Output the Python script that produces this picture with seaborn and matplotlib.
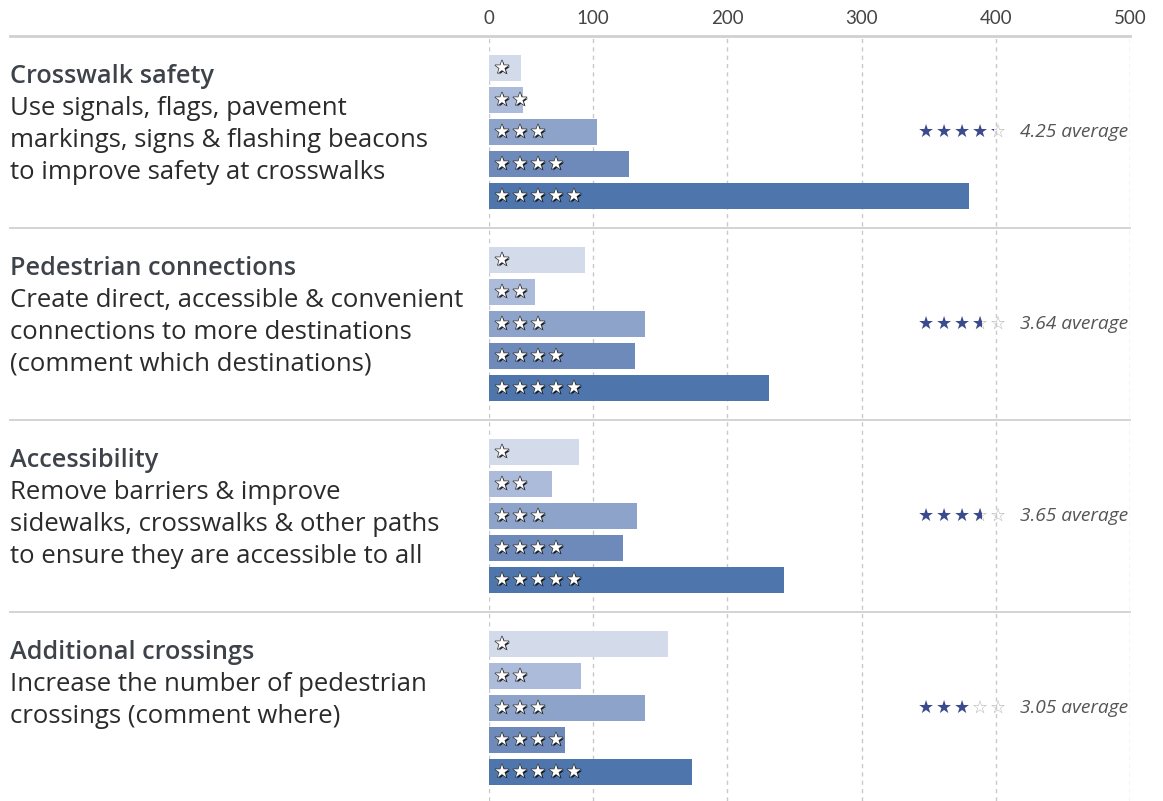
import numpy as np
import pandas as pd
import matplotlib
matplotlib.use('Agg')
import matplotlib.pyplot as plt
import matplotlib.patheffects as pe
from matplotlib.transforms import Bbox
import seaborn as sns

# dados
titles = ['Crosswalk safety', 'Pedestrian connections', 'Accessibility', 'Additional crossings']
descriptions = [
    ['Use signals, flags, pavement', 'markings, signs & flashing beacons', 'to improve safety at crosswalks'],
    ['Create direct, accessible & convenient', 'connections to more destinations', '(comment which destinations)'],
    ['Remove barriers & improve', 'sidewalks, crosswalks & other paths', 'to ensure they are accessible to all'],
    ['Increase the number of pedestrian', 'crossings (comment where)'],
]
stars = [1, 2, 3, 4, 5]
counts_crosswalk = [31, 33, 103, 127, 380]
counts_connections = [92, 44, 139, 131, 231]
counts_accessibility = [87, 61, 133, 122, 242]
counts_crossings = [156, 88, 139, 73, 174]
averages = [4.25, 3.64, 3.65, 3.05]
x_ticks = [0, 100, 200, 300, 400, 500]

all_counts = [counts_crosswalk, counts_connections, counts_accessibility, counts_crossings]
star_colors = ['#d3dbea', '#adbbda', '#8ea3c9', '#6e8aba', '#4e76ad']

rows = []
for g, counts in enumerate(all_counts):
    for s, c in zip(stars, counts):
        rows.append({'group': g, 'stars': s, 'count': c, 'pos': 6 * g + s})
df = pd.DataFrame(rows)

plt.rcParams['font.family'] = ['Open Sans', 'DejaVu Sans']

fig = plt.figure(figsize=(11.63, 8.01), dpi=100)
ax = fig.add_axes([489 / 1163, 0, 641 / 1163, 1 - 36 / 801])

sns.barplot(data=df, x='count', y='pos', hue='stars', palette=star_colors, orient='h',
            native_scale=True, dodge=False, width=0.84, legend=False, ax=ax, saturation=1)

# escala do eixo x: o primeiro intervalo (0-100) é mais curto no original
K = 104 / 134.25


def fwd(v):
    v = np.asarray(v, dtype=float)
    return np.where(v <= 100, v * K, 100 * K + (v - 100))


def inv(u):
    u = np.asarray(u, dtype=float)
    return np.where(u <= 100 * K, u / K, u - 100 * K + 100)


ax.set_xscale('function', functions=(fwd, inv))
ax.set_xlim(0, 500)
ax.set_ylim(23.906, 0)
ax.set_xticks(x_ticks)
ax.set_xticklabels([str(t) for t in x_ticks], fontfamily=['Lato', 'DejaVu Sans'])
ax.xaxis.tick_top()
ax.tick_params(axis='x', length=0, pad=6.5, labelsize=13.5, labelcolor='#444444')
ax.set_yticks([])
ax.set_xlabel('')
ax.set_ylabel('')
for sp in ax.spines.values():
    sp.set_visible(False)

# grade vertical tracejada
for t in x_ticks:
    ax.axvline(t, color='#c9c9c9', lw=1, ls=(0, (3, 3)), zorder=0)

# linhas horizontais (topo e separadores), estendidas para a esquerda
ytr = ax.get_yaxis_transform()
left = (10 - 489) / 641
ax.plot([left, 1.0], [0, 0], transform=ytr, color='#d0d0d0', lw=2, clip_on=False, zorder=3)
for g in range(1, 4):
    ax.plot([left, 1.0], [6 * g, 6 * g], transform=ytr, color='#d0d0d0', lw=1.3, clip_on=False, zorder=3)

# textos à esquerda
for g, (title, lines) in enumerate(zip(titles, descriptions)):
    ax.text(left, 6 * g + 1.25, title, transform=ytr, ha='left', va='center',
            fontsize=18.2, fontweight='semibold', color='#3e434a')
    for i, line in enumerate(lines):
        ax.text(left, 6 * g + 2.25 + i, line, transform=ytr, ha='left', va='center',
                fontsize=18.5, color='#2b2b2b')

# estrelas dentro das barras
star_fx = [pe.SimplePatchShadow(offset=(1.0, -1.0), shadow_rgbFace='black', alpha=0.85),
           pe.Stroke(linewidth=1.0, foreground='#333333'), pe.Normal()]
for _, r in df.iterrows():
    for k in range(int(r['stars'])):
        ax.text((13 + 18 * k) / 641, r['pos'], '\u2605', transform=ytr, ha='center', va='center',
                fontsize=12.5, fontfamily='DejaVu Sans', color='white', path_effects=star_fx, zorder=5)

# média com estrelas à direita
partial = []
for g, avg in enumerate(averages):
    y = 6 * g + 3
    full = int(np.floor(avg))
    for k in range(5):
        x = (926 - 489 + 18 * k) / 641
        if k < full:
            ax.text(x, y, '\u2605', transform=ytr, ha='center', va='center', fontsize=13,
                    fontfamily='DejaVu Sans', color='#3b4a8c', zorder=5)
        else:
            ax.text(x, y, '\u2606', transform=ytr, ha='center', va='center', fontsize=13,
                    fontfamily='DejaVu Sans', color='#b8b8b8', zorder=5)
            if k == full and avg - full > 0:
                t = ax.text(x, y, '\u2605', transform=ytr, ha='center', va='center', fontsize=13,
                            fontfamily='DejaVu Sans', color='#3b4a8c', zorder=6)
                partial.append((t, avg - full))
    ax.text((1128 - 489) / 641, y, f'{avg:.2f} average', transform=ytr, ha='right', va='center',
            fontsize=13.8, fontstyle='italic', color='#555555')

fig.canvas.draw()
renderer = fig.canvas.get_renderer()
for t, frac in partial:
    bb = t.get_window_extent(renderer)
    t.set_clip_box(Bbox.from_bounds(bb.x0, bb.y0 - 2, bb.width * frac, bb.height + 4))
    t.set_clip_on(True)

fig.savefig('out.png', dpi=100)
